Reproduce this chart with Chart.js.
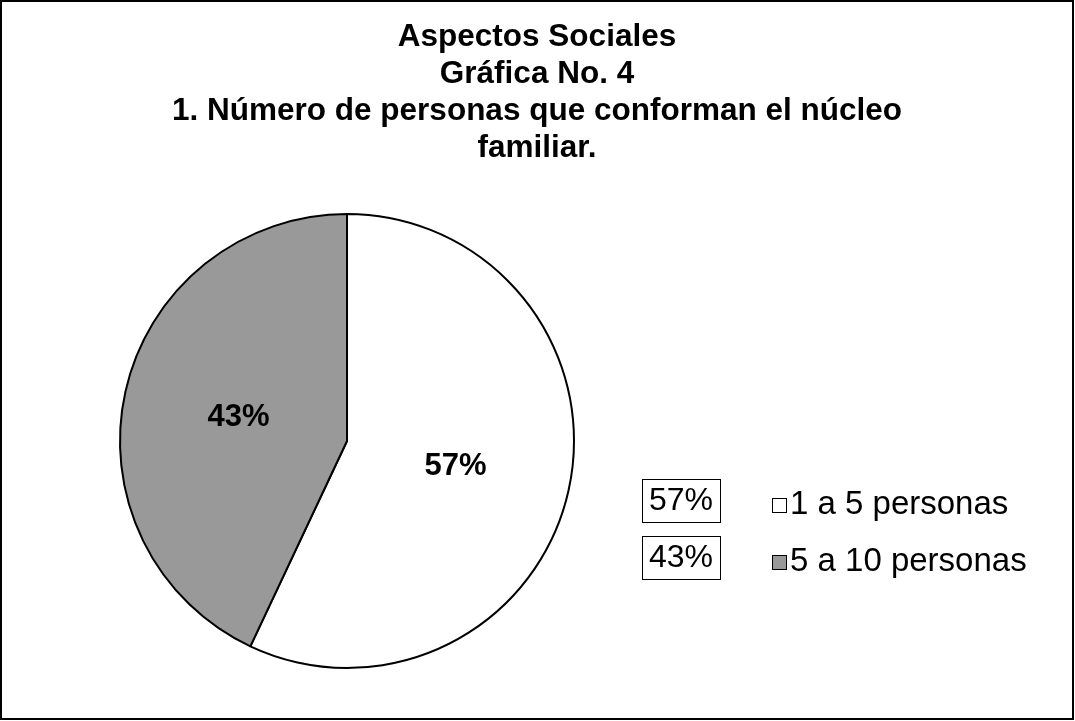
<!DOCTYPE html>
<html>
<head>
<meta charset="utf-8">
<script src="https://cdn.jsdelivr.net/npm/chart.js"></script>
<style>
html, body { margin: 0; padding: 0; background: #fff; }
</style>
</head>
<body>
<canvas id="pieChart" width="1075" height="721"></canvas>
<script>
var titulo = ["Aspectos Sociales", "Gráfica No. 4", "1. Número de personas que conforman el núcleo", "familiar."];
var categorias = ["1 a 5 personas", "5 a 10 personas"];
var porcentajes = [57, 43];
var colores = ["#FFFFFF", "#999999"];

var fuente = "'Liberation Sans', Arial, sans-serif";

// titulo, etiquetas, leyenda y marco
var extras = {
  id: 'extras',
  afterDraw: function (chart) {
    var ctx = chart.ctx;
    ctx.save();
    ctx.fillStyle = '#000';
    ctx.textAlign = 'center';
    ctx.textBaseline = 'middle';

    ctx.font = 'bold 31.5px ' + fuente;
    titulo.forEach(function (t, i) {
      ctx.fillText(t, 537, 37 + i * 37);
    });

    // porcentajes dentro de la torta
    ctx.font = 'bold 31px ' + fuente;
    var arcs = chart.getDatasetMeta(0).data;
    arcs.forEach(function (arc, i) {
      var p = arc.getProps(['x', 'y', 'startAngle', 'endAngle', 'outerRadius']);
      var a = (p.startAngle + p.endAngle) / 2;
      var r = p.outerRadius * 0.49;
      ctx.fillText(porcentajes[i] + '%', p.x + Math.cos(a) * r, p.y + Math.sin(a) * r + 1);
    });

    // leyenda
    ctx.lineWidth = 1;
    ctx.strokeStyle = '#000';
    categorias.forEach(function (c, i) {
      var y = 501 + i * 57;
      ctx.fillStyle = '#fff';
      ctx.fillRect(642.5, y - 21.5, 78, 43);
      ctx.strokeRect(642.5, y - 21.5, 78, 43);
      ctx.fillStyle = '#000';
      ctx.font = '32px ' + fuente;
      ctx.textAlign = 'center';
      ctx.fillText(porcentajes[i] + '%', 681, y);

      ctx.fillStyle = colores[i];
      ctx.fillRect(772.5, y - 2.5, 14, 14);
      ctx.strokeRect(772.5, y - 2.5, 14, 14);
      ctx.fillStyle = '#000';
      ctx.textAlign = 'left';
      ctx.font = '33px ' + fuente;
      ctx.fillText(c, 790, y + 4);
    });

    ctx.lineWidth = 2;
    ctx.strokeRect(1, 1, 1072, 718);
    ctx.restore();
  }
};

var ctxP = document.getElementById("pieChart");
var myPieChart = new Chart(ctxP, {
  type: 'pie',
  data: {
    labels: categorias,
    datasets: [{
      data: porcentajes,
      backgroundColor: colores,
      borderColor: '#000',
      borderWidth: 2,
      hoverOffset: 0
    }]
  },
  options: {
    responsive: false,
    animation: false,
    layout: {
      padding: { left: 119, right: 500, top: 213, bottom: 52 }
    },
    plugins: {
      legend: { display: false },
      tooltip: { enabled: false },
      title: { display: false }
    }
  },
  plugins: [extras]
});
</script>
</body>
</html>
